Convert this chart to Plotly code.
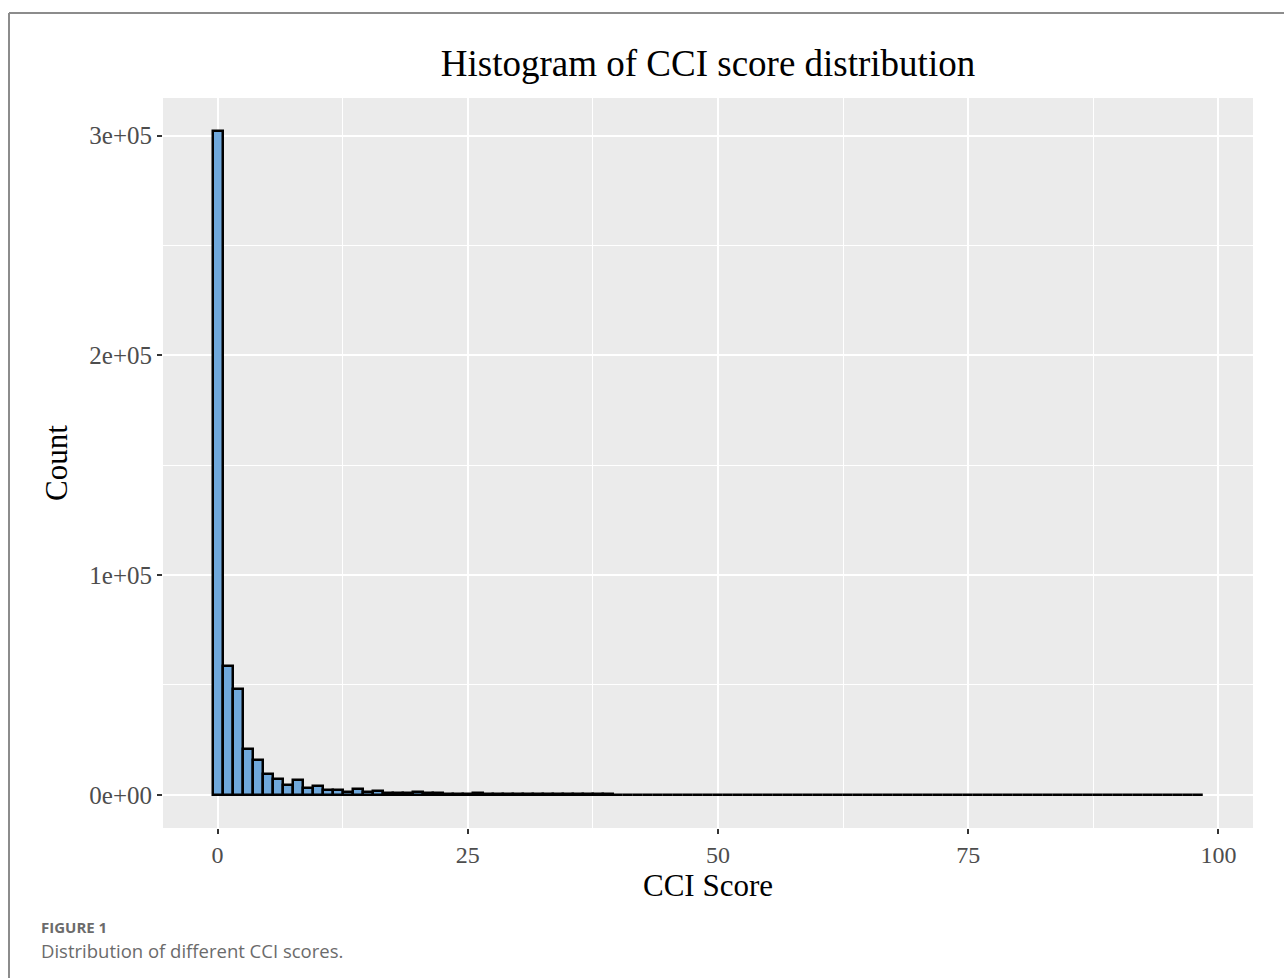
import plotly.graph_objects as go

# ---- data ----
bin_centers = list(range(0, 99))
counts = [
    302000, 58500, 48000, 21000, 15800, 9500, 7200, 4500, 6700, 3300,
    3800, 2100, 2100, 1400, 2600, 1200, 1900, 900, 800, 700,
    1300, 700, 900, 500, 600, 400, 700, 400, 500, 300,
    350, 250, 300, 200, 300, 200, 250, 150, 200, 150,
    100, 90, 80, 70, 70, 60, 60, 50, 50, 45,
    40, 40, 35, 35, 30, 30, 30, 25, 25, 25,
    20, 20, 20, 20, 15, 15, 15, 15, 15, 12,
    12, 12, 12, 10, 10, 10, 10, 10, 10, 10,
    10, 10, 10, 10, 10, 10, 10, 10, 10, 10,
    10, 10, 10, 10, 10, 10, 10, 10, 10,
]
x_tick_vals = [0, 25, 50, 75, 100]
x_tick_text = ["0", "25", "50", "75", "100"]
y_tick_vals = [0, 100000, 200000, 300000]
y_tick_text = ["0e+00", "1e+05", "2e+05", "3e+05"]

W, H = 1284, 978
ML, MR, MT, MB = 163, 31, 98, 150
PW, PH = W - ML - MR, H - MT - MB


def px_x(p):
    return (p - ML) / PW


def px_y(p):
    return (H - MB - p) / PH


serif = "Liberation Serif, Times New Roman, serif"

fig = go.Figure(
    go.Bar(
        x=bin_centers,
        y=counts,
        width=1,
        marker=dict(color="#6FA8DC", line=dict(color="black", width=2.5)),
        hoverinfo="x+y",
    )
)

fig.update_layout(
    width=W,
    height=H,
    margin=dict(l=ML, r=MR, t=MT, b=MB, autoexpand=False),
    paper_bgcolor="white",
    plot_bgcolor="#EBEBEB",
    showlegend=False,
    bargap=0,
    title=dict(
        text="Histogram of CCI score distribution",
        font=dict(family=serif, size=37, color="black"),
        x=0.5,
        xref="paper",
        xanchor="center",
        y=1 - 63 / H,
        yref="container",
        yanchor="middle",
    ),
    xaxis=dict(
        range=[-5.45, 103.45],
        tickvals=x_tick_vals,
        ticktext=x_tick_text,
        ticks="outside",
        ticklen=5,
        tickwidth=2,
        tickcolor="#333333",
        tickfont=dict(family=serif, size=24, color="#4D4D4D"),
        showgrid=True,
        gridcolor="white",
        gridwidth=2,
        zeroline=False,
        showline=False,
        minor=dict(dtick=12.5, tick0=0, showgrid=True, gridcolor="white", gridwidth=1, ticks=""),
        title=dict(text="CCI Score", font=dict(family=serif, size=31, color="black"), standoff=4),
    ),
    yaxis=dict(
        range=[-15100, 317100],
        tickvals=y_tick_vals,
        ticktext=y_tick_text,
        ticks="outside",
        ticklen=5,
        tickwidth=2,
        tickcolor="#333333",
        tickfont=dict(family=serif, size=25, color="#4D4D4D"),
        showgrid=True,
        gridcolor="white",
        gridwidth=2,
        zeroline=False,
        showline=False,
        minor=dict(dtick=50000, tick0=0, showgrid=True, gridcolor="white", gridwidth=1, ticks=""),
        title=dict(text="Count", font=dict(family=serif, size=31, color="black"), standoff=12),
    ),
    shapes=[
        dict(type="line", xref="paper", yref="paper",
             x0=px_x(9), x1=px_x(9), y0=px_y(13), y1=px_y(H + 5),
             line=dict(color="#8C8C8C", width=2)),
        dict(type="line", xref="paper", yref="paper",
             x0=px_x(9), x1=px_x(W + 5), y0=px_y(13), y1=px_y(13),
             line=dict(color="#8C8C8C", width=2)),
    ],
    annotations=[
        dict(text="<b>FIGURE 1</b>", xref="paper", yref="paper",
             x=px_x(39), y=px_y(927), xanchor="left", yanchor="middle",
             showarrow=False, font=dict(family="Open Sans, sans-serif", size=15, color="#6B6B6B")),
        dict(text="Distribution of different CCI scores.", xref="paper", yref="paper",
             x=px_x(39), y=px_y(951), xanchor="left", yanchor="middle",
             showarrow=False, font=dict(family="Open Sans, sans-serif", size=18.5, color="#6B6B6B")),
    ],
)

fig.write_html(
    "out.html",
    config={"displayModeBar": False},
    post_script="document.body.style.margin='0';document.body.style.overflow='hidden';",
)
